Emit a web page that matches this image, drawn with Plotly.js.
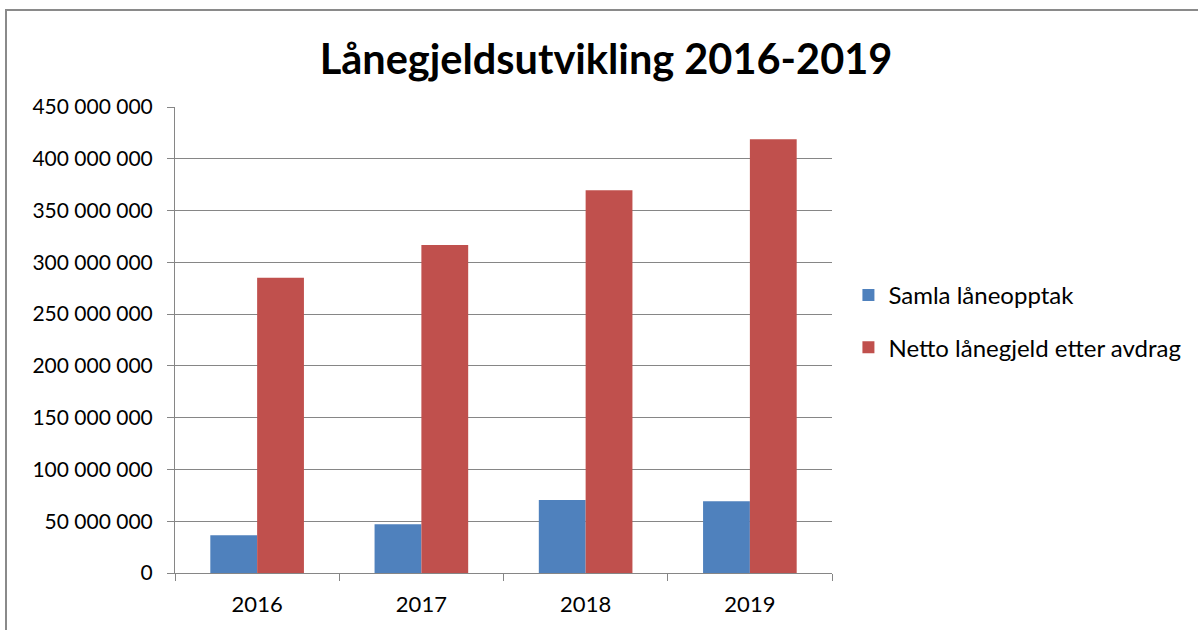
<!DOCTYPE html>
<html>
<head>
<meta charset="utf-8">
<script src="https://cdn.plot.ly/plotly-3.0.1.min.js"></script>
<style>
  html, body { margin: 0; padding: 0; background: #fff; }
  #wrap { position: relative; width: 1198px; height: 630px; overflow: hidden; }
  #chart { position: absolute; left: 0; top: 0; width: 1198px; height: 630px; }
  #frame { position: absolute; left: 5px; top: 9px; width: 1300px; height: 700px;
           border-top: 2px solid #8a8a8a; border-left: 2px solid #8a8a8a; pointer-events: none; }
</style>
</head>
<body>
<div id="wrap">
  <div id="chart"></div>
  <div id="frame"></div>
</div>
<script>
const years = ["2016", "2017", "2018", "2019"];
const seriesNames = ["Samla låneopptak", "Netto lånegjeld etter avdrag"];
const samlaLaneopptak = [36500000, 47100000, 70500000, 69200000];
const nettoLanegjeld = [285200000, 316700000, 369700000, 418900000];
const yTicks = [0, 50000000, 100000000, 150000000, 200000000, 250000000, 300000000, 350000000, 400000000, 450000000];

const FONT = "Lato, 'Open Sans', sans-serif";

const traces = [
  { type: "bar", name: seriesNames[0], x: years, y: samlaLaneopptak,
    marker: { color: "#4F81BD", line: { width: 0 } }, legendgroup: "a", hoverinfo: "skip" },
  { type: "bar", name: seriesNames[1], x: years, y: nettoLanegjeld,
    marker: { color: "#C0504D", line: { width: 0 } }, legendgroup: "b", hoverinfo: "skip" }
];

const layout = {
  width: 1198, height: 630,
  paper_bgcolor: "#ffffff", plot_bgcolor: "#ffffff",
  margin: { l: 175, r: 366, t: 107, b: 57, autoexpand: false },
  separators: ", ",
  font: { family: FONT, color: "#000000", size: 20 },
  title: { text: "<b>Lånegjeldsutvikling 2016-2019</b>", x: 606 / 1198, xanchor: "center",
           y: 1 - 59 / 630, yanchor: "middle",
           font: { family: FONT, size: 41.5, color: "#000000" } },
  barmode: "group", bargap: 0.43, bargroupgap: 0,
  showlegend: true,
  legend: { x: 1.025, xanchor: "left", y: 0.54, yanchor: "middle",
            traceorder: "grouped", tracegroupgap: 18,
            font: { family: FONT, size: 24, color: "#000000" },
            itemwidth: 30, bgcolor: "rgba(0,0,0,0)" },
  xaxis: {
    type: "category", showgrid: false, showline: true, linecolor: "#868686", linewidth: 1,
    ticks: "outside", tickson: "boundaries", ticklen: 7, tickcolor: "#868686",
    ticklabelstandoff: 12, automargin: false,
    tickfont: { family: FONT, size: 22, color: "#000000" }, zeroline: false, fixedrange: true
  },
  yaxis: {
    range: [0, 450000000], tickvals: yTicks, tickformat: ",d",
    showgrid: true, gridcolor: "#868686", gridwidth: 1,
    showline: true, linecolor: "#868686", linewidth: 1, automargin: false,
    ticks: "outside", ticklen: 7, tickcolor: "#868686", ticklabelstandoff: 10,
    zeroline: false, tickfont: { family: FONT, size: 21, color: "#000000" }, fixedrange: true
  }
};

Plotly.newPlot("chart", traces, layout, { displayModeBar: false, staticPlot: true });
</script>
</body>
</html>
